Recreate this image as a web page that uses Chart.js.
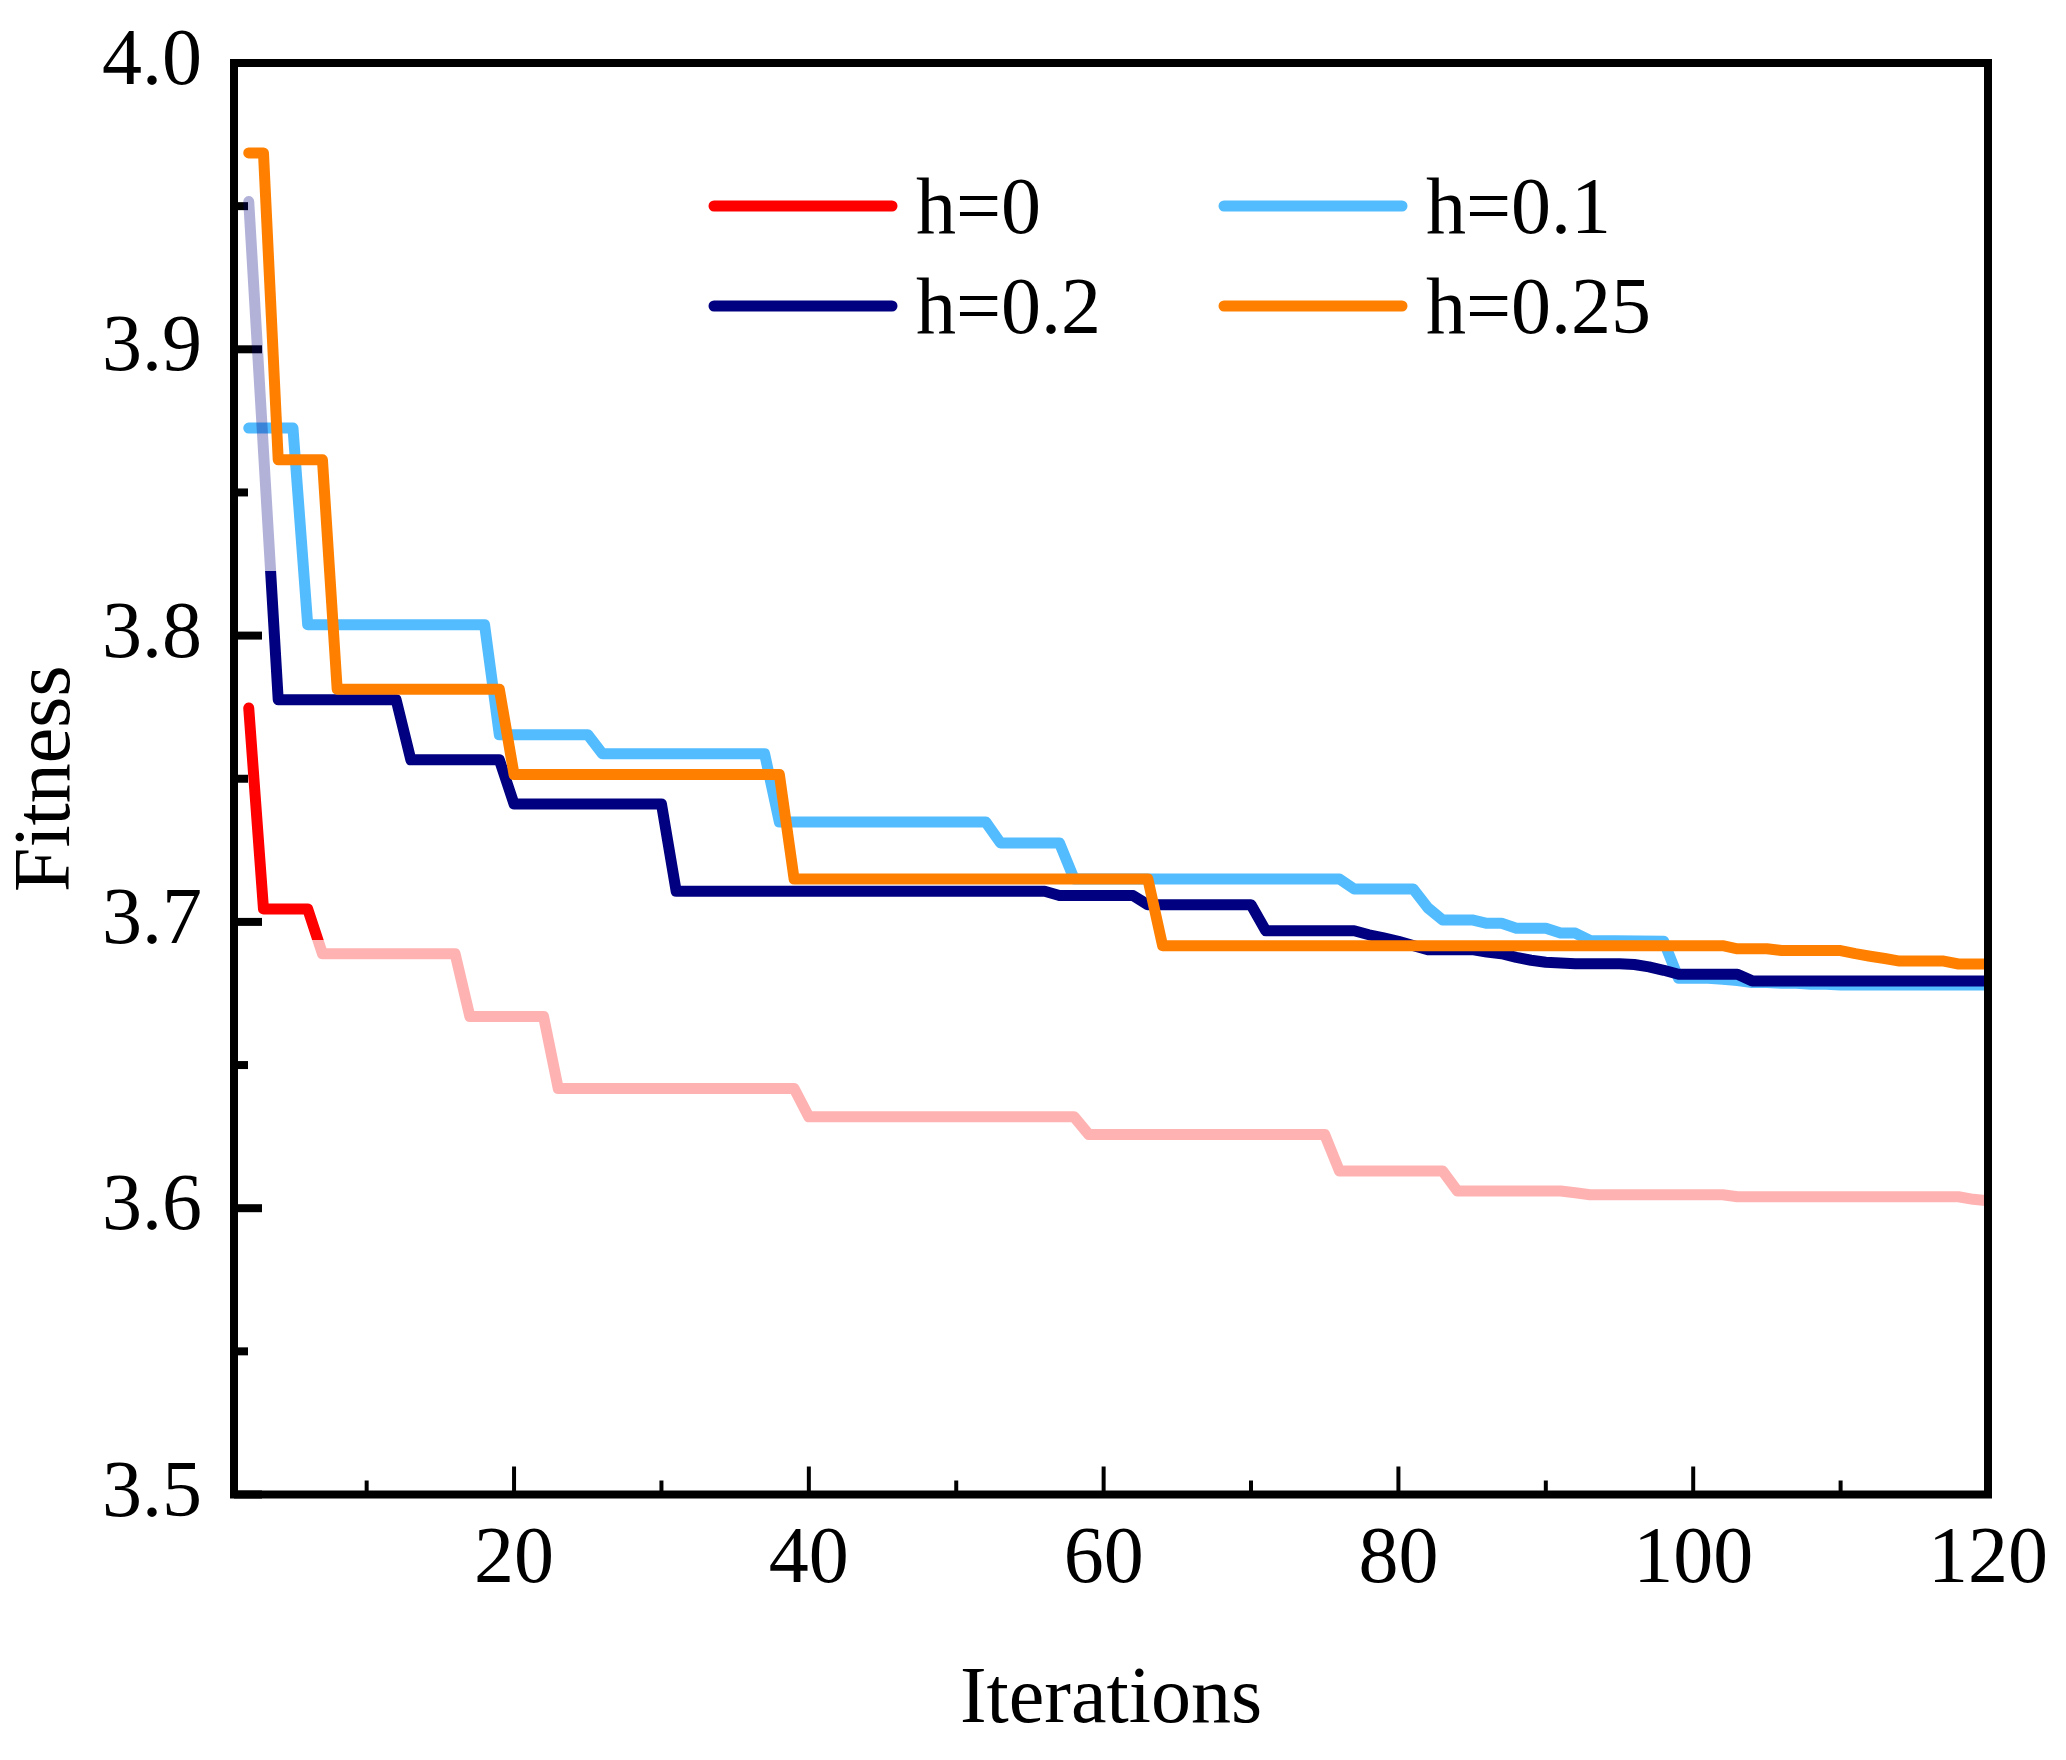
<!DOCTYPE html>
<html>
<head>
<meta charset="utf-8">
<title>Fitness vs Iterations</title>
<script src="https://cdn.jsdelivr.net/npm/chart.js@4.4.1/dist/chart.umd.min.js"></script>
<style>
  html, body { margin: 0; padding: 0; background: #fff; }
  #wrap { width: 2066px; height: 1760px; position: relative; }
</style>
</head>
<body>
<div id="wrap"><canvas id="fitnessChart"></canvas></div>
<script>
// 数据：每条曲线只记录拐点 (iteration, fitness)
const iterH0 = [2, 3, 6, 7, 16, 17, 22, 23, 39, 40, 58, 59, 75, 76, 83, 84, 91, 92, 93, 102, 103, 118, 119, 120];
const fitH0 = [3.7747, 3.7045, 3.7045, 3.6889, 3.6889, 3.6670, 3.6670, 3.6418, 3.6418, 3.6319, 3.6319, 3.6257,
  3.6257, 3.6130, 3.6130, 3.6060, 3.6060, 3.6054, 3.6047, 3.6047, 3.6040, 3.6040, 3.6031, 3.6026];

const iterH01 = [2, 5, 6, 18, 19, 25, 26, 37, 38, 52, 53, 57, 58, 76, 77, 81, 82, 83, 85, 86, 87, 88, 90, 91, 92,
  93, 98, 99, 101, 102, 103, 104, 105, 106, 107, 108, 109, 110, 120];
const fitH01 = [3.8725, 3.8725, 3.8038, 3.8038, 3.7654, 3.7654, 3.7587, 3.7587, 3.7349, 3.7349, 3.7276, 3.7276,
  3.7150, 3.7150, 3.7115, 3.7115, 3.7049, 3.7007, 3.7007, 3.6995, 3.6995, 3.6978, 3.6978, 3.6961, 3.6961,
  3.6935, 3.6932, 3.6803, 3.6803, 3.6800, 3.6795, 3.6788, 3.6788, 3.6786, 3.6786, 3.6782, 3.6782, 3.6780, 3.6780];

const iterH02 = [2, 4, 12, 13, 19, 20, 30, 31, 56, 57, 62, 63, 70, 71, 77, 78, 79, 80, 82, 85, 86, 87, 88, 89, 90,
  92, 95, 96, 97, 98, 99, 103, 104, 120];
const fitH02 = [3.9516, 3.7776, 3.7776, 3.7566, 3.7566, 3.7412, 3.7412, 3.7107, 3.7107, 3.7092, 3.7092, 3.7060,
  3.7060, 3.6969, 3.6969, 3.6955, 3.6944, 3.6932, 3.6903, 3.6903, 3.6895, 3.6889, 3.6876, 3.6866, 3.6859,
  3.6854, 3.6854, 3.6851, 3.6843, 3.6831, 3.6817, 3.6817, 3.6794, 3.6794];

const iterH025 = [2, 3, 4, 7, 8, 19, 20, 38, 39, 63, 64, 102, 103, 105, 106, 110, 111, 112, 113, 114, 117, 118, 120];
const fitH025 = [3.9686, 3.9686, 3.8614, 3.8614, 3.7813, 3.7813, 3.7515, 3.7515, 3.7150, 3.7150, 3.6917, 3.6917,
  3.6906, 3.6906, 3.6900, 3.6900, 3.6889, 3.6880, 3.6872, 3.6863, 3.6863, 3.6853, 3.6853];

// 刻度
const xTicks = [20, 40, 60, 80, 100, 120];
const xMinorTicks = [10, 30, 50, 70, 90, 110];
const yTicks = [3.5, 3.6, 3.7, 3.8, 3.9, 4.0];
const yMinorTicks = [3.55, 3.65, 3.75, 3.85, 3.95];

const serif = 'Liberation Serif, Times New Roman, serif';

function toPoints(xs, ys) {
  return xs.map((x, i) => ({ x: x, y: ys[i] }));
}

// 颜色在某个 fitness 值处切换成淡色
function splitColor(chart, solid, faded, cutValue, fadedAbove) {
  const area = chart.chartArea;
  if (!area || !chart.scales.y) return solid;
  const cut = chart.scales.y.getPixelForValue(cutValue);
  const f = Math.min(Math.max((cut - area.top) / (area.bottom - area.top), 0), 1);
  const upper = fadedAbove ? faded : solid;
  const lower = fadedAbove ? solid : faded;
  const g = chart.ctx.createLinearGradient(0, area.top, 0, area.bottom);
  g.addColorStop(0, upper);
  g.addColorStop(f, upper);
  g.addColorStop(f, lower);
  g.addColorStop(1, lower);
  return g;
}

function lineSet(label, xs, ys, color, order, borderColor) {
  return {
    label: label,
    data: toPoints(xs, ys),
    legendColor: color,
    borderColor: borderColor || color,
    borderWidth: 11,
    borderCapStyle: 'round',
    borderJoinStyle: 'round',
    pointRadius: 0,
    tension: 0,
    fill: false,
    order: order
  };
}

const datasets = [
  lineSet('h=0', iterH0, fitH0, '#ff0000', 4,
    ctx => splitColor(ctx.chart, '#ff0000', 'rgba(255,0,0,0.3)', 3.6938, false)),
  lineSet('h=0.1', iterH01, fitH01, '#52bcff', 3),
  lineSet('h=0.2', iterH02, fitH02, '#000080', 2,
    ctx => splitColor(ctx.chart, '#000080', 'rgba(0,0,128,0.3)', 3.8226, true)),
  lineSet('h=0.25', iterH025, fitH025, '#ff8000', 1)
];

// 内向刻度线、边框和图例
const frameAndLegend = {
  id: 'frameAndLegend',
  beforeDatasetsDraw(chart) {
    const { ctx, chartArea: a, scales: { x, y } } = chart;
    ctx.save();
    ctx.strokeStyle = '#000';
    ctx.lineCap = 'butt';
    function seg(x1, y1, x2, y2) {
      ctx.beginPath(); ctx.moveTo(x1, y1); ctx.lineTo(x2, y2); ctx.stroke();
    }
    ctx.lineWidth = 8;
    yTicks.forEach(v => { const p = y.getPixelForValue(v); seg(a.left, p, a.left + 28, p); });
    yMinorTicks.forEach(v => { const p = y.getPixelForValue(v); seg(a.left, p, a.left + 14, p); });
    ctx.lineWidth = 4;
    xTicks.forEach(v => { const p = x.getPixelForValue(v); seg(p, a.bottom, p, a.bottom - 28); });
    xMinorTicks.forEach(v => { const p = x.getPixelForValue(v); seg(p, a.bottom, p, a.bottom - 14); });
    ctx.restore();
  },
  afterDatasetsDraw(chart) {
    const { ctx, chartArea: a } = chart;
    ctx.save();
    ctx.strokeStyle = '#000';
    ctx.lineWidth = 8;
    ctx.strokeRect(a.left, a.top, a.right - a.left, a.bottom - a.top);

    // 两列图例
    const cols = [714, 1224];
    const rows = [206, 306];
    ctx.font = '80px ' + serif;
    ctx.fillStyle = '#000';
    ctx.textAlign = 'left';
    ctx.textBaseline = 'alphabetic';
    ctx.lineCap = 'round';
    ctx.lineWidth = 11;
    chart.data.datasets.forEach((ds, i) => {
      const lx = cols[i % 2];
      const ly = rows[Math.floor(i / 2)];
      ctx.strokeStyle = ds.legendColor;
      ctx.beginPath(); ctx.moveTo(lx, ly); ctx.lineTo(lx + 178, ly); ctx.stroke();
      ctx.fillText(ds.label, lx + 202, ly + 27);
    });
    ctx.restore();
  }
};

const tickFont = { family: serif, size: 80, lineHeight: 1.2 };
const titleFont = { family: serif, size: 80, lineHeight: 1 };

new Chart(document.getElementById('fitnessChart').getContext('2d'), {
  type: 'line',
  data: { datasets: datasets },
  options: {
    responsive: true,
    maintainAspectRatio: false,
    animation: false,
    devicePixelRatio: 1,
    layout: { padding: { left: 0, top: 63, right: 78, bottom: 0 } },
    plugins: {
      legend: { display: false },
      tooltip: { enabled: false }
    },
    scales: {
      x: {
        type: 'linear',
        min: 1,
        max: 120,
        grid: { display: false, drawTicks: false },
        border: { display: false },
        afterBuildTicks: s => { s.ticks = xTicks.map(v => ({ value: v })); },
        afterFit: s => { s.height = 265.5; s.paddingLeft = 0; s.paddingRight = 0; },
        ticks: { font: tickFont, color: '#000', padding: 18, maxRotation: 0, autoSkip: false },
        title: { display: true, text: 'Iterations', font: titleFont, color: '#000', padding: { top: 0, bottom: 19 } }
      },
      y: {
        type: 'linear',
        min: 3.5,
        max: 4.0,
        grid: { display: false, drawTicks: false },
        border: { display: false },
        afterBuildTicks: s => { s.ticks = yTicks.map(v => ({ value: v })); },
        afterFit: s => { s.width = 234; s.paddingTop = 0; s.paddingBottom = 0; },
        ticks: { font: tickFont, color: '#000', padding: 32, autoSkip: false, callback: v => v.toFixed(1) },
        title: { display: true, text: 'Fitness', font: titleFont, color: '#000', padding: { top: 8, bottom: 0 } }
      }
    }
  },
  plugins: [frameAndLegend]
});
</script>
</body>
</html>
